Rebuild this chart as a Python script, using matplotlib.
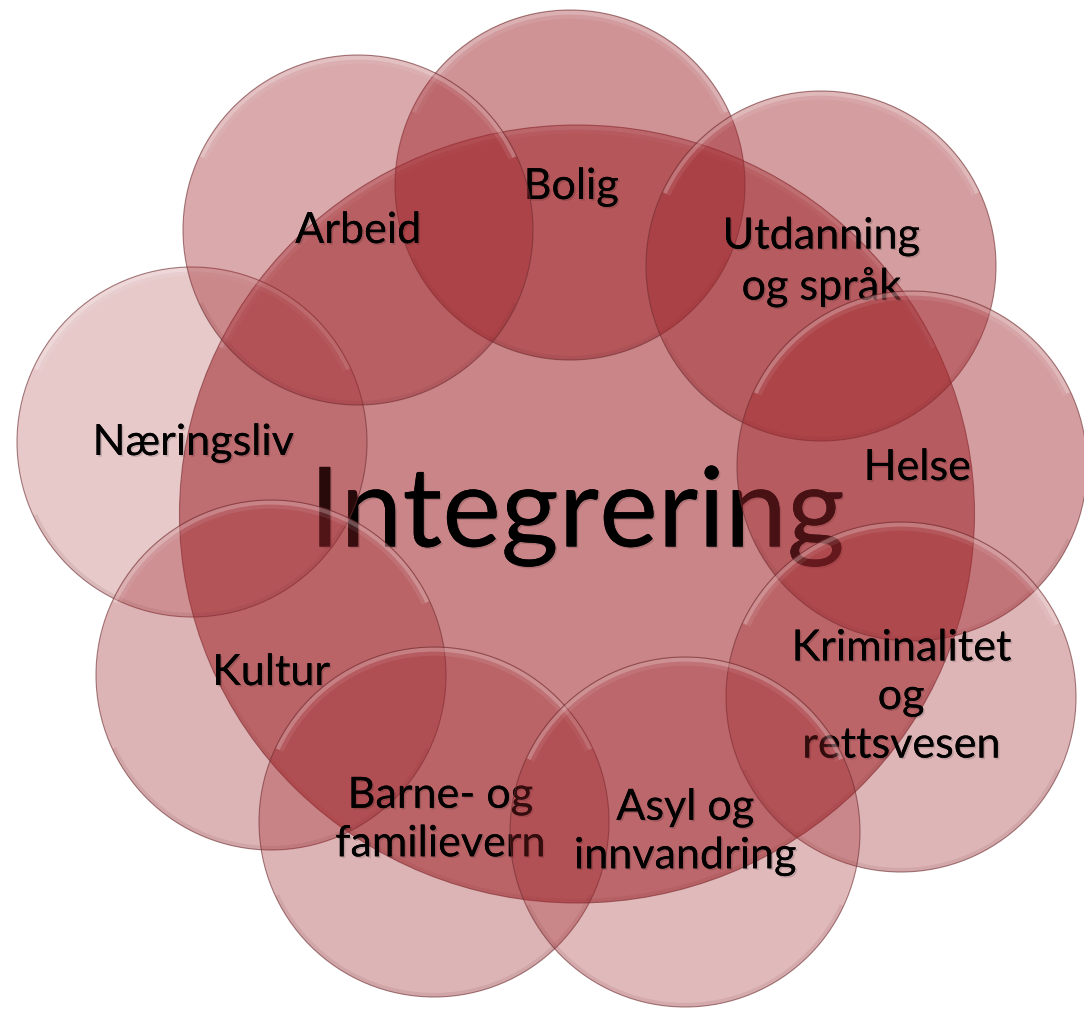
import matplotlib
matplotlib.use("Agg")
import matplotlib.pyplot as plt
from matplotlib.patches import Circle, Ellipse, Arc
import matplotlib.patheffects as pe

# ---- content ----
center_label = "Integrering"
labels = ["Bolig", "Utdanning\nog språk", "Helse", "Kriminalitet\nog\nrettsvesen",
          "Asyl og\ninnvandring", "Barne- og\nfamilievern", "Kultur", "Næringsliv", "Arbeid"]

# ---- layout (pixel coordinates, y downward) ----
circle_x = [570, 821, 912, 901, 685, 434, 271, 192, 358]
circle_y = [185, 266, 466, 697, 832, 822, 675, 442, 230]
label_x = [571, 821, 917, 901, 685, 440, 271, 193, 358]
label_y = [187, 262, 468, 697, 832, 820, 673, 443, 231]
circle_alpha = [0.50, 0.45, 0.45, 0.34, 0.32, 0.35, 0.35, 0.25, 0.40]
draw_order = [0, 1, 2, 3, 7, 6, 5, 4, 8]
R = 175
center_xy = (577, 514)
center_w, center_h = 795, 778
center_alpha = 0.57

base = (160 / 255, 40 / 255, 46 / 255)
edge = (110 / 255, 45 / 255, 48 / 255)
FONT = ["Lato", "DejaVu Sans"]

fig = plt.figure(figsize=(10.84, 10.10), dpi=100)
ax = fig.add_axes([0, 0, 1, 1])
ax.set_xlim(0, 1084)
ax.set_ylim(1010, 0)
ax.set_aspect("equal")
ax.axis("off")

shadow = [pe.withSimplePatchShadow(offset=(1.2, -1.2), shadow_rgbFace="black", alpha=0.15), pe.Normal()]


def glass(x, y, w, h, z):
    # soft highlight band just inside the top edge
    for d, lw, a in [(5, 3, 0.22), (9, 6, 0.08)]:
        ax.add_patch(Arc((x, y), w - d, h - d, theta1=205, theta2=335, color="white",
                         lw=lw, alpha=a, zorder=z + 0.1))
    # faint darker band inside the bottom edge
    ax.add_patch(Arc((x, y), w - 4, h - 4, theta1=25, theta2=155, color=edge,
                     lw=3, alpha=0.10, zorder=z + 0.1))


z = 1
ax.add_patch(Ellipse(center_xy, center_w, center_h, facecolor=base, alpha=center_alpha,
                     edgecolor="none", zorder=z))
ax.add_patch(Ellipse(center_xy, center_w, center_h, facecolor="none", edgecolor=edge,
                     lw=0.8, alpha=0.6, zorder=z + 0.2))
glass(center_xy[0], center_xy[1], center_w, center_h, z)
ax.text(center_xy[0], center_xy[1] + 2, center_label, fontsize=80, family=FONT,
        ha="center", va="center", color="black", zorder=z + 0.5, path_effects=shadow)

for k, i in enumerate(draw_order):
    z = 2 + k
    ax.add_patch(Circle((circle_x[i], circle_y[i]), R, facecolor=base, alpha=circle_alpha[i],
                        edgecolor="none", zorder=z))
    ax.add_patch(Circle((circle_x[i], circle_y[i]), R, facecolor="none", edgecolor=edge,
                        lw=0.8, alpha=0.6, zorder=z + 0.2))
    glass(circle_x[i], circle_y[i], 2 * R, 2 * R, z)
    ax.text(label_x[i], label_y[i], labels[i], fontsize=31, family=FONT, ha="center",
            va="center", linespacing=1.34, color="black", zorder=z + 0.5,
            path_effects=shadow)

fig.savefig("out.png", dpi=100)
